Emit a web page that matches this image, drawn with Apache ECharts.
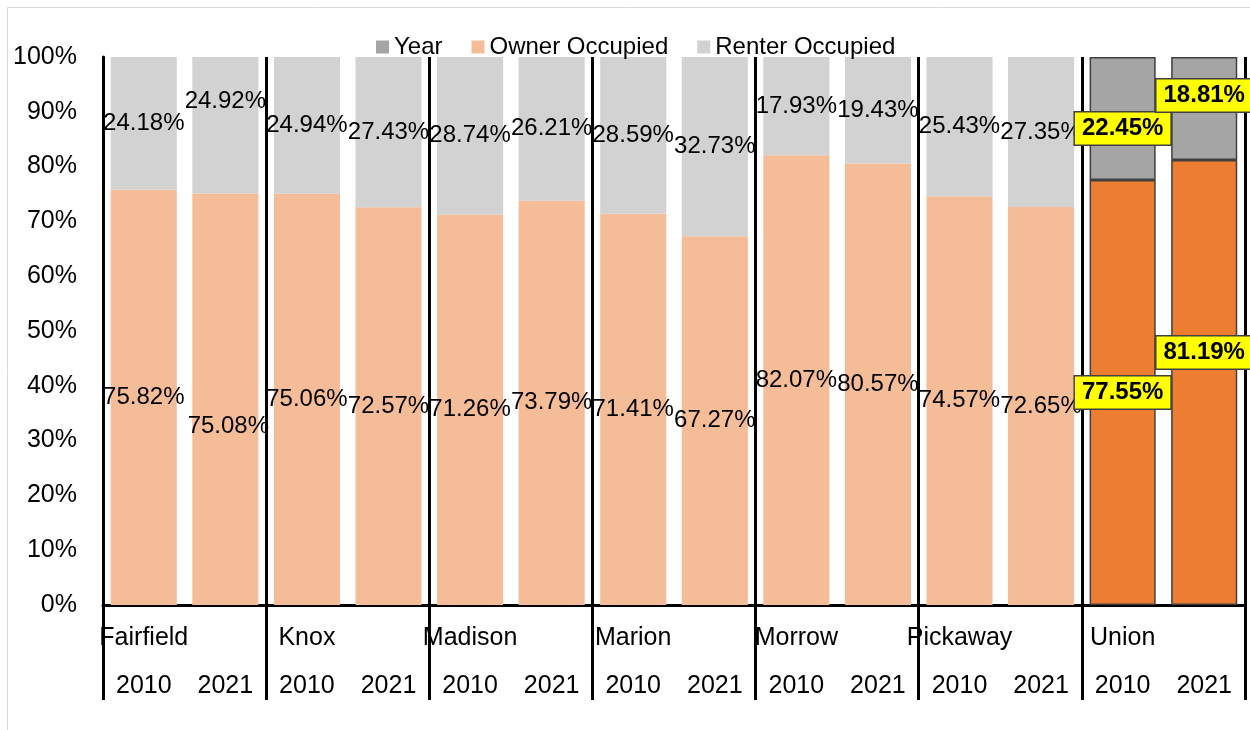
<!DOCTYPE html>
<html>
<head>
<meta charset="utf-8">
<script src="https://cdn.jsdelivr.net/npm/echarts@6/dist/echarts.min.js"></script>
<style>
  html, body { margin: 0; padding: 0; background: #fff; }
  #chart { width: 1250px; height: 730px; }
</style>
</head>
<body>
<div id="chart"></div>
<script>
// counties, each with a 2010 and 2021 bar
const counties = ['Fairfield', 'Knox', 'Madison', 'Marion', 'Morrow', 'Pickaway', 'Union']
const years = ['2010', '2021']
const ownerPct = [75.82, 75.08, 75.06, 72.57, 71.26, 73.79, 71.41, 67.27, 82.07, 80.57, 74.57, 72.65, 77.55, 81.19]
const renterPct = [24.18, 24.92, 24.94, 27.43, 28.74, 26.21, 28.59, 32.73, 17.93, 19.43, 25.43, 27.35, 22.45, 18.81]
const highlightCounty = 'Union'

const font = 'Liberation Sans, Arial, sans-serif'
const ownerColor = '#F4BC97'
const renterColor = '#D2D2D2'
const hiOwner = '#ED7D31'
const hiRenter = '#A5A5A5'

// a few labels were dragged by hand in the original
const ownerLabelShift = { 1: [3, 27], 13: [0, -30] }
const renterLabelShift = { 1: [0, -24], 12: [0, 10], 13: [0, -13] }

let yearCats = []
let countyCats = []
counties.forEach(c => {
    years.forEach((y, j) => {
        yearCats.push(y)
        countyCats.push(j === 0 ? c : '')
    })
})

const isHi = i => counties[Math.floor(i / 2)] === highlightCounty
const everyGroup = i => i % 2 === 0

function buildData(values, hiColor, shifts) {
    return values.map((v, i) => {
        let item = { value: v }
        let lbl = {}
        if (shifts[i]) lbl.offset = shifts[i]
        if (isHi(i)) {
            item.itemStyle = { color: hiColor, borderColor: '#404040', borderWidth: 1.5 }
            Object.assign(lbl, {
                fontWeight: 'bold',
                backgroundColor: '#FFFF00',
                borderColor: '#404040',
                borderWidth: 1.5,
                padding: [5, 7, 3, 7]
            })
        }
        item.label = lbl
        return item
    })
}

const labelCfg = {
    show: true,
    position: 'inside',
    fontSize: 24,
    fontFamily: font,
    color: '#000',
    formatter: p => p.value.toFixed(2) + '%'
}

const chart = echarts.init(document.getElementById('chart'))
chart.setOption({
    animation: false,
    textStyle: { fontFamily: font },
    graphic: [{
        type: 'rect',
        shape: { x: 7.5, y: 7.5, width: 1270, height: 760 },
        style: { fill: 'none', stroke: '#D9D9D9', lineWidth: 1 },
        silent: true
    }],
    legend: {
        left: 371,
        top: 30,
        itemWidth: 13,
        itemHeight: 13,
        itemGap: 29,
        icon: 'rect',
        textStyle: { fontSize: 24, color: '#000', fontFamily: font },
        data: ['Year', 'Owner Occupied', 'Renter Occupied']
    },
    grid: { left: 103, right: 5, top: 57, bottom: 125 },
    xAxis: [{
        type: 'category',
        position: 'bottom',
        data: yearCats,
        axisLine: { lineStyle: { color: '#000', width: 3 } },
        axisTick: { show: true, interval: everyGroup, length: 95, lineStyle: { color: '#000', width: 3 } },
        splitLine: { show: true, interval: everyGroup, lineStyle: { color: '#000', width: 3 } },
        axisLabel: { interval: 0, margin: 69, fontSize: 25, color: '#000', fontFamily: font }
    }, {
        type: 'category',
        position: 'bottom',
        data: countyCats,
        axisLine: { show: false },
        axisTick: { show: false },
        axisLabel: { interval: 0, margin: 21, fontSize: 25, color: '#000', fontFamily: font }
    }],
    yAxis: {
        type: 'value',
        min: 0,
        max: 100,
        interval: 10,
        axisLine: { show: true, lineStyle: { color: '#000', width: 3 } },
        axisTick: { show: false },
        splitLine: { show: false },
        axisLabel: { formatter: '{value}%', fontSize: 25, color: '#000', margin: 26, fontFamily: font }
    },
    series: [{
        name: 'Year',
        type: 'bar',
        stack: 'total',
        itemStyle: { color: hiRenter },
        data: []
    }, {
        name: 'Owner Occupied',
        type: 'bar',
        stack: 'total',
        barCategoryGap: '19%',
        itemStyle: { color: ownerColor },
        label: labelCfg,
        data: buildData(ownerPct, hiOwner, ownerLabelShift)
    }, {
        name: 'Renter Occupied',
        type: 'bar',
        stack: 'total',
        barCategoryGap: '19%',
        itemStyle: { color: renterColor },
        label: labelCfg,
        data: buildData(renterPct, hiRenter, renterLabelShift)
    }]
})
</script>
</body>
</html>
